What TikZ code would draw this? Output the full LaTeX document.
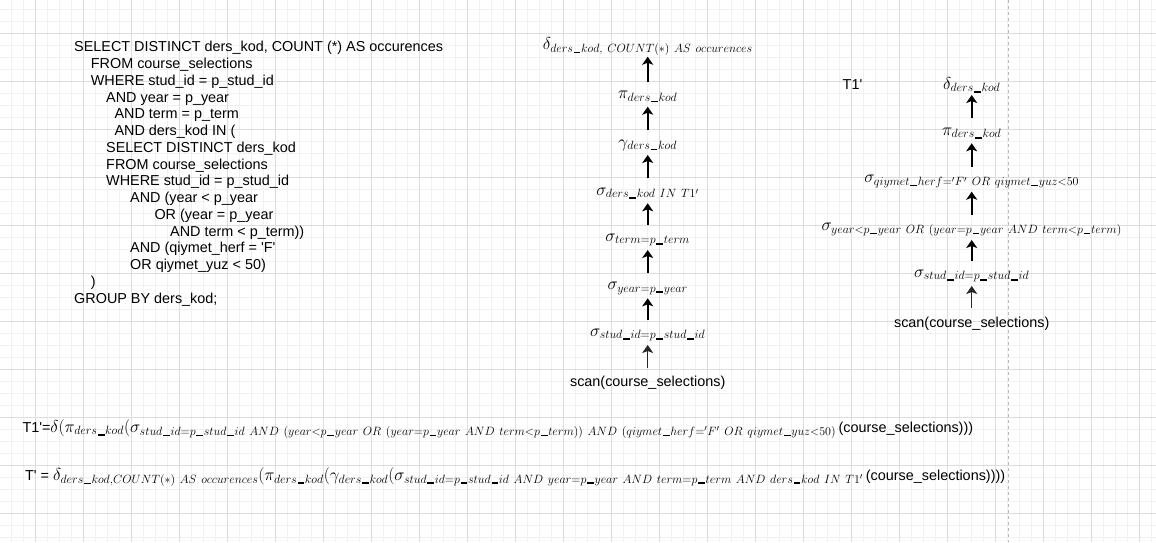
\documentclass[tikz,border=0pt]{standalone}
\usepackage{amsmath}
\usepackage{fontspec}
\newfontfamily\sqlfont{Liberation Sans}
\usetikzlibrary{arrows.meta}
\definecolor{gridminor}{HTML}{F1F1F1}
\definecolor{gridmajor}{HTML}{DDDDDD}
\definecolor{pagedash}{HTML}{B8B8B8}
\newcommand{\sanstext}[1]{{\sqlfont\fontsize{14.4}{17.28}\selectfont #1}}
\newcommand{\uq}{\textquotesingle}
\newcommand{\ws}{\mskip7mu}
\DeclareRobustCommand{\_}{\ifmmode\text{\kern.06em\rule[-0.06em]{0.55em}{0.12em}\kern.06em}\else\textunderscore\fi}
\tikzset{
  sqlline/.style={font=\sqlfont\fontsize{14.4}{16.75}\selectfont, inner sep=0pt, anchor=base west},
  relop/.style={font=\fontsize{17.5}{21}\selectfont, inner sep=0pt},
  formula/.style={font=\fontsize{17.5}{21}\selectfont, inner sep=0pt, anchor=base west},
  flowarrow/.style={line width=2pt, -{Stealth[length=8pt,width=11pt,inset=2pt]}, shorten <=15pt, shorten >=10pt},
  scanarrow/.style={flowarrow, line width=1pt, draw=black!85},
}
\begin{document}
\begin{tikzpicture}[x=1pt,y=-1pt]
\useasboundingbox (0,0) rectangle (1156,542);
\fill[white] (0,0) rectangle (1156,542);
% grid
\foreach \x in {11,23,...,1151} \draw[gridminor, line width=1pt] (\x,0) -- (\x,542);
\foreach \y in {9,21,...,537} \draw[gridminor, line width=1pt] (0,\y) -- (1156,\y);
\foreach \x in {35,83,...,1139} \draw[gridmajor, line width=1pt] (\x,0) -- (\x,542);
\foreach \y in {33,81,...,513} \draw[gridmajor, line width=1pt] (0,\y) -- (1156,\y);
% page boundary
\draw[pagedash, line width=1pt, dash pattern=on 3pt off 3pt] (1008,0) -- (1008,542);

% SQL text
\node[sqlline] (s1)  at (74,51.9)    {SELECT DISTINCT ders\_kod, COUNT (*) AS occurences};
\node[sqlline] (s2)  at (90.7,68.65) {FROM course\_selections};
\node[sqlline] (s3)  at (90.7,85.4)  {WHERE stud\_id = p\_stud\_id};
\node[sqlline] (s4)  at (106,102.15) {AND year = p\_year};
\node[sqlline] (s5)  at (114.3,118.9) {AND term = p\_term};
\node[sqlline] (s6)  at (114.3,135.65) {AND ders\_kod IN (};
\node[sqlline] (s7)  at (106,152.4)  {SELECT DISTINCT ders\_kod};
\node[sqlline] (s8)  at (106,169.15) {FROM course\_selections};
\node[sqlline] (s9)  at (106,185.9)  {WHERE stud\_id = p\_stud\_id};
\node[sqlline] (s10) at (130,202.65) {AND (year < p\_year};
\node[sqlline] (s11) at (154.3,219.4) {OR (year = p\_year};
\node[sqlline] (s12) at (170,236.15) {AND term < p\_term))};
\node[sqlline] (s13) at (130,252.9)  {AND (qiymet\_herf = \uq F\uq};
\node[sqlline] (s14) at (130,269.65) {OR qiymet\_yuz < 50)};
\node[sqlline] (s15) at (90.7,286.4) {)};
\node[sqlline] (s16) at (74,303.15)  {GROUP BY ders\_kod;};

% middle tree (T')
\node[relop] (a1) at (647.7,46.7)  {$\delta_{ders\_kod,\ws COUNT(*)\ws AS\ws occurences}$};
\node[relop] (a2) at (647.7,96.7)  {$\pi_{ders\_kod}$};
\node[relop] (a3) at (647.7,145)   {$\gamma_{ders\_kod}$};
\node[relop] (a4) at (647.7,193.3) {$\sigma_{ders\_kod\ws IN\ws T1'}$};
\node[relop] (a5) at (647.7,240)   {$\sigma_{term=p\_term}$};
\node[relop] (a6) at (647.7,288.3) {$\sigma_{year=p\_year}$};
\node[relop] (a7) at (647.7,335)   {$\sigma_{stud\_id=p\_stud\_id}$};
\node[sqlline, anchor=center] (a8) at (647.7,382.7) {scan(course\_selections)};
\draw[flowarrow] (a2.center) -- (a1.center);
\draw[flowarrow] (a3.center) -- (a2.center);
\draw[flowarrow] (a4.center) -- (a3.center);
\draw[flowarrow] (a5.center) -- (a4.center);
\draw[flowarrow] (a6.center) -- (a5.center);
\draw[flowarrow] (a7.center) -- (a6.center);
\draw[scanarrow] (a8.center) -- (a7.center);

% right tree (T1')
\node[sqlline, anchor=center] (t1) at (852.5,85) {T1\uq};
\node[relop] (b1) at (971.7,85)    {$\delta_{ders\_kod}$};
\node[relop] (b2) at (971.7,133.3) {$\pi_{ders\_kod}$};
\node[relop] (b3) at (971.7,181.7) {$\sigma_{qiymet\_herf='F'\ws OR\ws qiymet\_yuz<50}$};
\node[relop] (b4) at (971.7,230)   {$\sigma_{year<p\_year\ws OR\ws (year=p\_year\ws AND\ws term<p\_term)}$};
\node[relop] (b5) at (971.7,276)   {$\sigma_{stud\_id=p\_stud\_id}$};
\node[sqlline, anchor=center] (b6) at (971.7,323.3) {scan(course\_selections)};
\draw[flowarrow] (b2.center) -- (b1.center);
\draw[flowarrow] (b3.center) -- (b2.center);
\draw[flowarrow] (b4.center) -- (b3.center);
\draw[flowarrow] (b5.center) -- (b4.center);
\draw[scanarrow] (b6.center) -- (b5.center);

% formulas
\node[formula] (f1) at (22.3,432.3) {\sanstext{T1\uq=}$\delta(\pi_{ders\_kod}(\sigma_{stud\_id=p\_stud\_id\ws AND\ws (year<p\_year\ws OR\ws (year=p\_year\ws AND\ws term<p\_term))\ws AND\ws (qiymet\_herf='F'\ws OR\ws qiymet\_yuz<50)}$\hspace{2.5pt}\sanstext{(course\_selections)))}};
\node[formula] (f2) at (25,480.5) {\sanstext{T\uq\ =\ }$\delta_{ders\_kod,COUNT(*)\ws AS\ws occurences}(\pi_{ders\_kod}(\gamma_{ders\_kod}(\sigma_{stud\_id=p\_stud\_id\ws AND\ws year=p\_year\ws AND\ws term=p\_term\ws AND\ws ders\_kod\ws IN\ws T1'}$\hspace{2.5pt}\sanstext{(course\_selections))))}};
\end{tikzpicture}
\end{document}
